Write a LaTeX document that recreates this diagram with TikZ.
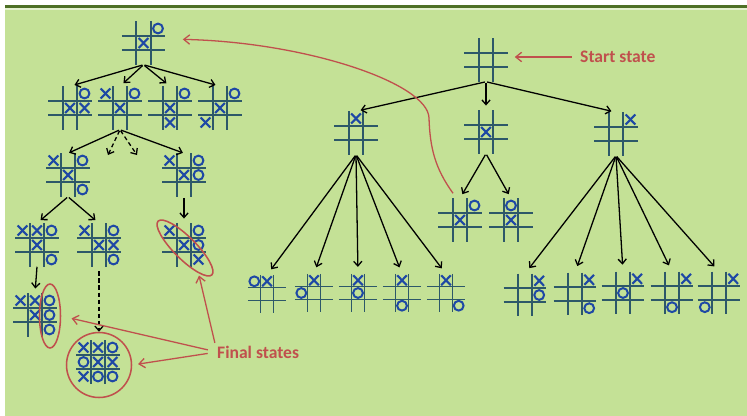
\documentclass[tikz,border=0pt]{standalone}
\usepackage{fontspec}
\setmainfont{Carlito}
\usetikzlibrary{arrows.meta,shapes.geometric}
\definecolor{slide}{RGB}{196,225,150}
\definecolor{bar}{RGB}{78,112,38}
\definecolor{gridc}{RGB}{45,88,105}
\definecolor{ink}{RGB}{30,72,165}
\definecolor{redline}{RGB}{192,80,77}
\newcommand{\pxl}{0.03cm}
\newcommand{\cellw}{14.5}
\newcommand{\mkx}[2]{
	\draw [xmark]({#1-4.8},{#2-5}) -- ({#1+4.8},{#2+5});
	\draw [xmark]({#1-4.8},{#2+5}) -- ({#1+4.8},{#2-5});
	}
\newcommand{\mko}[2]{
	\draw [omark]({#1},{#2}) circle [radius=4.9*\pxl];
	}
\newcommand{\board}[5][\cellw]{
	\node [boardbox, minimum size=3*#1*\pxl] (#2) at (#3,#4) {};
	\draw [grid]({#3-#1/2},{#4-1.5*#1}) -- ({#3-#1/2},{#4+1.5*#1});
	\draw [grid]({#3+#1/2},{#4-1.5*#1}) -- ({#3+#1/2},{#4+1.5*#1});
	\draw [grid]({#3-1.5*#1},{#4-#1/2}) -- ({#3+1.5*#1},{#4-#1/2});
	\draw [grid]({#3-1.5*#1},{#4+#1/2}) -- ({#3+1.5*#1},{#4+#1/2});
	\foreach \m/\cx/\ry in {#5} {\csname mk\m\endcsname{#3+(\cx)*#1}{#4+(\ry)*#1}}
	}
\begin{document}
\begin{tikzpicture}[
      x=\pxl, y=-\pxl, %one unit is one pixel of the slide
      boardbox/.style={inner sep=0pt, outer sep=0pt},
      grid/.style={gridc, line width=1.4pt},
      xmark/.style={ink, line width=1.8pt},
      omark/.style={ink, line width=1.7pt},
      move/.style={->, >={Straight Barb[length=4pt,width=7pt]}, line width=1.1pt, shorten >=4pt, shorten <=1pt},
      maybe/.style={move, dash pattern=on 3.5pt off 2.5pt},
      hint/.style={redline, ->, >={Straight Barb[length=5pt,width=8pt]}, line width=1.1pt},
      win/.style={draw=redline, line width=1.3pt, ellipse, inner sep=0pt},
      caption/.style={text=redline, font=\bfseries\fontsize{15}{18}\selectfont, anchor=west, inner sep=0pt}
    ]
    \useasboundingbox (0,0) rectangle (747,416);
    %slide background
    \fill [white](0,0) rectangle (747,416);
    \fill [slide](5,8) rectangle (747,416);
    \draw [bar, line width=3*\pxl](5,6.5) -- (747,6.5);
    \draw [white!55!slide, line width=1.5*\pxl](5,8.8) -- (747,8.8);
    % Right tree, from the empty board
    \board{s0}{486}{60}{};
    \board{s1}{356}{133}{x/0/-1};
    \board{s2}{486}{132}{x/0/0};
    \board{s3}{616}{134}{x/1/-1};
    \board{s21}{460}{220}{x/0/0, o/1/-1};
    \board{s22}{511}{220}{o/0/-1, x/0/0};
    \board[12.7]{s11}{267}{294}{o/-1/-1, x/0/-1};
    \board[12.7]{s12}{314}{293}{x/0/-1, o/-1/0};
    \board[12.7]{s13}{358}{293}{x/0/-1, o/0/0};
    \board[12.7]{s14}{402}{293}{x/0/-1, o/0/1};
    \board[12.7]{s15}{446}{293}{x/0/-1, o/1/1};
    \board[14.2]{s31}{525}{295}{x/1/-1, o/1/0};
    \board[14.2]{s32}{575}{294}{x/1/-1, o/1/1};
    \board[14.2]{s33}{623}{293}{x/1/-1, o/0/0};
    \board[14.2]{s34}{672}{293}{x/1/-1, o/0/1};
    \board[14.2]{s35}{719}{293}{x/1/-1, o/-1/1};
    \draw [move](s0.south) -- (s1.north);
    \draw [move](s0.south) -- (s2.north);
    \draw [move](s0.south) -- (s3.north);
    \draw [move](s2.south) -- (s21.north);
    \draw [move](s2.south) -- (s22.north);
    \foreach \k in {1,...,5}{
      \draw [move, shorten >=6pt](s1.south) -- (s1\k.north);
      \draw [move, shorten >=6pt](s3.south) -- (s3\k.north);
    }
    % Left tree, from the X-center O-corner board
    \board{t0}{143.5}{43}{x/0/0, o/1/-1};
    \board{t1}{70}{108}{o/1/-1, x/0/0, x/1/0};
    \board{t2}{120}{108}{x/-1/-1, o/1/-1, x/0/0};
    \board{t3}{170}{108}{o/1/-1, x/0/0, x/0/1};
    \board{t4}{220}{108}{o/1/-1, x/0/0, x/-1/1};
    \board{t21}{68}{175}{x/-1/-1, o/1/-1, x/0/0, o/1/1};
    \board{t22}{184}{175}{x/-1/-1, o/1/-1, x/0/0, o/1/0};
    \board{t211}{37}{245}{x/-1/-1, x/0/-1, o/1/-1, x/0/0, o/1/1};
    \board{t212}{99}{245}{x/-1/-1, o/1/-1, x/0/0, x/1/0, o/1/1};
    \board{t221}{184}{245}{x/-1/-1, o/1/-1, x/0/0, o/1/0, x/1/1};
    \board{t2111}{35}{315}{x/-1/-1, x/0/-1, o/1/-1, x/0/0, o/1/0, o/1/1};
    \board{t2121}{98}{362}{x/-1/-1, x/0/-1, o/1/-1, o/-1/0, x/0/0, x/1/0, x/-1/1, o/0/1, o/1/1};
    \coordinate (d1) at (108,155);
    \coordinate (d2) at (137,155);
    \foreach \k in {1,...,4}{
      \draw [move](t0.south) -- (t\k.north);
    }
    \draw [move, shorten >=1pt](t2.south) -- (t21.north);
    \draw [maybe, shorten >=0pt](t2.south) -- (d1);
    \draw [maybe, shorten >=0pt](t2.south) -- (d2);
    \draw [move, shorten >=1pt](t2.south) -- (t22.north);
    \draw [move](t21.south) -- (t211.north);
    \draw [move](t21.south) -- (t212.north);
    \draw [move](t22.south) -- (t221.north);
    \draw [move, shorten <=0pt](t211.south) -- (t2111.north);
    % Final states
    \node [win, minimum width=76*\pxl, minimum height=22*\pxl, rotate=-45] (win1) at (185,248) {};
    \node [win, minimum width=21*\pxl, minimum height=64*\pxl] (win2) at (50,316) {};
    \node [win, circle, minimum size=65*\pxl] (win3) at (99,365) {};
    \draw [maybe, shorten <=4pt, shorten >=0pt](t212.south) -- (win3.north);
    \node [caption] (final) at (217,352) {Final states};
    \draw [hint, shorten <=8pt, shorten >=9pt](final.west) -- (win2.east);
    \draw [hint, shorten <=8pt, shorten >=5pt](final.west) -- (win3.east);
    \draw [hint, shorten <=8pt, shorten >=2pt](final.west) -- (win1.south east);
    % Start state and the link between the trees
    \node [caption] (start) at (580,57) {Start state};
    \draw [hint, shorten <=7pt, shorten >=6pt](start.west) -- (s0.east |- start.west);
    \coordinate (bend) at (429,118);
    \draw [hint, shorten >=15pt]([shift={(-7,-5)}]s21.north) .. controls +(-18,-25) and +(1,30) .. (bend)
      .. controls +(-1,-35) and +(140,3) .. ([shift={(0,-4)}]t0.east);
\end{tikzpicture}
\end{document}
